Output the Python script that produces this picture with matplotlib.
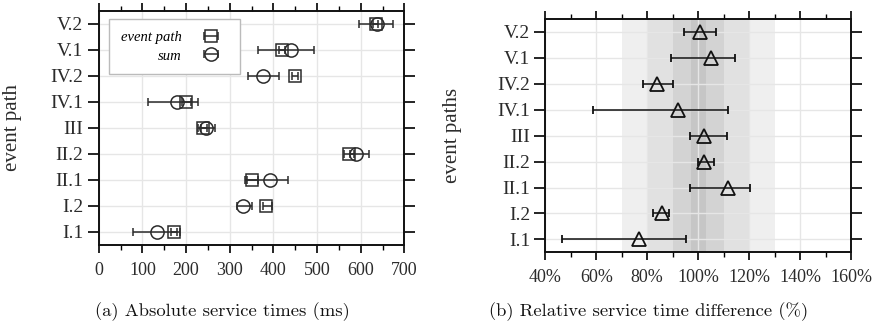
import matplotlib
matplotlib.use("Agg")
import matplotlib.pyplot as plt
from matplotlib.ticker import MultipleLocator, FuncFormatter
import numpy as np

# ---- data ----
paths = ["I.1", "I.2", "II.1", "II.2", "III", "IV.1", "IV.2", "V.1", "V.2"]

ep_mean = [173, 383, 352, 574, 240, 199, 450, 419, 634]
ep_lo = [166, 376, 340, 562, 234, 190, 442, 412, 628]
ep_hi = [179, 396, 364, 584, 247, 212, 456, 426, 640]

sum_mean = [133, 330, 393, 589, 245, 179, 377, 440, 637]
sum_lo = [79, 316, 334, 575, 228, 112, 343, 364, 596]
sum_hi = [187, 352, 434, 619, 266, 227, 412, 494, 673]

rel_mean = [76.8, 85.7, 111.6, 102.4, 102.4, 92.0, 84.0, 105.0, 100.7]
rel_lo = [46.5, 82.4, 96.9, 100.1, 96.9, 58.6, 78.2, 89.2, 94.3]
rel_hi = [95.1, 88.6, 120.5, 106.3, 111.2, 111.8, 90.1, 114.5, 107.1]

band_half = [30, 20, 10, 3]          # shaded bands around 100 %
band_colors = ["#efefef", "#e1e1e1", "#d3d3d3", "#c6c6c6"]

captions = ["(a) Absolute service times (ms)", "(b) Relative service time difference (%)"]

# ---- style ----
serif = ["Liberation Serif", "DejaVu Serif"]
plt.rcParams["font.family"] = serif
ink = "#2b2b2b"

fig = plt.figure(figsize=(8.79, 3.33), dpi=100)
ax1 = fig.add_axes([0.1123, 0.2643, 0.3477, 0.7036])
ax2 = fig.add_axes([0.6204, 0.2423, 0.3478, 0.7006])

y = np.arange(len(paths))


def err(mean, lo, hi):
    m = np.asarray(mean, float)
    return np.vstack([m - np.asarray(lo, float), np.asarray(hi, float) - m])


def style_axes(ax, xmin, xmax, major, minor):
    ax.set_xlim(xmin, xmax)
    ax.set_ylim(-0.5, len(paths) - 0.5)
    ax.set_yticks(y)
    ax.set_yticklabels(paths, fontsize=14, color=ink)
    ax.xaxis.set_major_locator(MultipleLocator(major))
    ax.xaxis.set_minor_locator(MultipleLocator(minor))
    ax.tick_params(axis="x", which="major", direction="out", length=6, width=1.2,
                   top=True, bottom=True, labelsize=13, labelcolor=ink, pad=6)
    ax.tick_params(axis="x", which="minor", direction="out", length=3.5, width=1.0,
                   top=True, bottom=True)
    ax.tick_params(axis="y", which="major", direction="out", length=8, width=1.2,
                   left=True, right=True, pad=3)
    ax.tick_params(axis="y", which="minor", left=False, right=False)
    ax.grid(True, which="major", color="#e6e6e6", linewidth=1.0)
    ax.set_axisbelow(True)
    for s in ax.spines.values():
        s.set_linewidth(1.4)
        s.set_color("#111111")


# ---- panel (a) ----
style_axes(ax1, 0, 700, 100, 50)
ax1.errorbar(ep_mean, y, xerr=err(ep_mean, ep_lo, ep_hi), fmt="s", ms=9,
             mfc="none", mec=ink, mew=1.1, ecolor=ink, elinewidth=1.1,
             capsize=3, capthick=1.1, label="event path", zorder=3)
ax1.errorbar(sum_mean, y, xerr=err(sum_mean, sum_lo, sum_hi), fmt="o", ms=9.5,
             mfc="none", mec=ink, mew=1.1, ecolor=ink, elinewidth=1.1,
             capsize=3, capthick=1.1, label="sum", zorder=3)
leg = ax1.legend(loc="upper left", markerfirst=False, fancybox=False,
                 edgecolor="#bbbbbb", framealpha=1,
                 prop={"family": serif, "style": "italic", "size": 10.5},
                 handlelength=2.4, borderpad=0.8, labelspacing=0.38,
                 handletextpad=0.8, borderaxespad=0,
                 bbox_to_anchor=(0.034, 0.965))
leg.get_frame().set_linewidth(1.0)
ax1.set_ylabel("event path", fontsize=15, color=ink)
ax1.yaxis.set_label_coords(-0.25, 0.5)

# ---- panel (b) ----
style_axes(ax2, 40, 160, 20, 10)
for h, c in zip(band_half, band_colors):
    ax2.axvspan(100 - h, 100 + h, color=c, lw=0, zorder=0.5)
ax2.errorbar(rel_mean, y, xerr=err(rel_mean, rel_lo, rel_hi), fmt="^", ms=10,
             mfc="none", mec="#111111", mew=1.3, ecolor="#111111", elinewidth=1.1,
             capsize=3, capthick=1.1, zorder=3)
ax2.xaxis.set_major_formatter(FuncFormatter(lambda v, p: f"{v:.0f}%"))
ax2.set_ylabel("event paths", fontsize=15, color=ink)
ax2.yaxis.set_label_coords(-0.272, 0.5)

# ---- captions ----
cap_font = ["cmr10", "DejaVu Serif"]
fig.text(0.253, 0.065, captions[0], ha="center", va="center", fontsize=13.4,
         family=cap_font, color="#111111")
fig.text(0.738, 0.065, captions[1], ha="center", va="center", fontsize=13.4,
         family=cap_font, color="#111111")

fig.savefig("out.png", dpi=100)
